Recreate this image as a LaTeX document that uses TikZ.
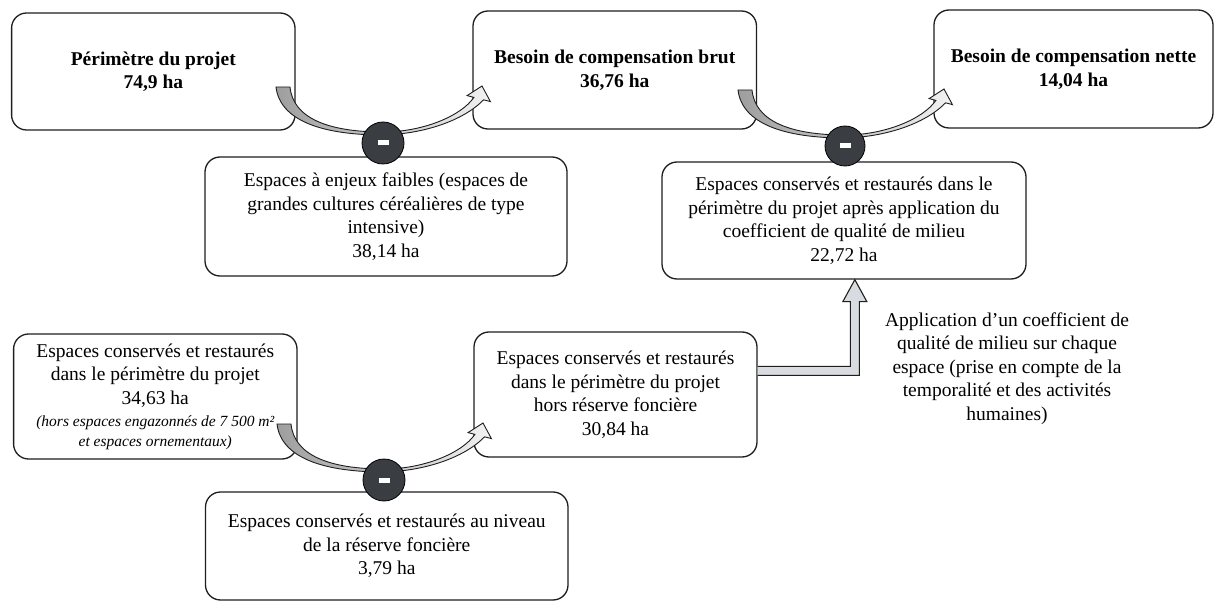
\documentclass[tikz,border=0pt]{standalone}
\usepackage{fontspec}
\setmainfont{Liberation Serif}
\usetikzlibrary{calc}
\newcommand\boxfont{\fontsize{19.5}{23.5}\selectfont}
\newcommand\smallit{\fontsize{15.5}{18}\selectfont\itshape}
\definecolor{linec}{HTML}{1E1E1E}
\definecolor{discfill}{HTML}{3A3D41}
\definecolor{elbowfill}{HTML}{D8DCE0}
\begin{document}
\begin{tikzpicture}[x=1pt,y=-1pt,
  box/.style={draw=linec, line width=1.3pt, rounded corners=15pt, fill=white, align=center, inner sep=2pt, font=\boxfont},
  boldbox/.style={box, font={\boxfont\bfseries}},
  disc/.style={circle, draw=black, line width=0.8pt, fill=discfill, minimum size=42pt, inner sep=0pt},
  bandarrow/.style={draw=linec, line width=0.9pt, left color=black!38, right color=black!5},
  elbow/.style={draw=linec, line width=1.1pt, fill=elbowfill, line join=miter},
  curvearrow/.pic={
    \draw[bandarrow] (-107,-56) .. controls (-103,-22) and (-60,-8) .. (0,-8)
      .. controls (40,-9) and (80,-22) .. (100.6,-43.2)
      -- (107.4,-41.4) -- (99,-57) -- (84.1,-47.4) -- (90.9,-45.6)
      .. controls (78,-27) and (40,-11) .. (0,-11)
      .. controls (-55,-11) and (-90,-25) .. (-93,-56) -- cycle;
  }
]
\useasboundingbox (0,0) rectangle (1216,604);

% boxes
\node[boldbox, minimum width=283.4pt, minimum height=117pt] (b1) at (153.3,71.5) {Périmètre du projet\\74,9 ha};
\node[boldbox, minimum width=283.5pt, minimum height=118pt] (b2) at (614.75,70) {Besoin de compensation brut\\36,76 ha};
\node[boldbox, minimum width=279pt, minimum height=118pt] (b3) at (1073.5,69) {Besoin de compensation nette\\14,04 ha};
\node[box, minimum width=362pt, minimum height=119pt] (b4) at (386,216.5) {Espaces à enjeux faibles (espaces de\\grandes cultures céréalières de type\\intensive)\\38,14 ha};
\node[box, minimum width=364pt, minimum height=117pt] (b5) at (844,220.5) {Espaces conservés et restaurés dans le\\périmètre du projet après application du\\coefficient de qualité de milieu\\22,72 ha};
\node[box, minimum width=283.4pt, minimum height=125pt] (b6) at (155.3,396.5) {Espaces conservés et restaurés\\dans le périmètre du projet\\34,63 ha\\[-1pt]{\smallit (hors espaces engazonnés de 7 500 m²}\\[-4pt]{\smallit et espaces ornementaux)}};
\node[box, minimum width=283pt, minimum height=125pt] (b7) at (615.5,394.5) {Espaces conservés et restaurés\\dans le périmètre du projet\\hors réserve foncière\\30,84 ha};
\node[box, minimum width=362.5pt, minimum height=108pt] (b8) at (386.75,546) {Espaces conservés et restaurés au niveau\\de la réserve foncière\\3,79 ha};

% side note
\node[font=\boxfont, align=center, inner sep=0pt] (note) at (1007,368.5) {Application d’un coefficient de\\qualité de milieu sur chaque\\espace (prise en compte de la\\temporalité et des activités\\humaines)};

% curved subtraction arrows
\coordinate (c1) at (383,143);
\coordinate (c2) at (845,146);
\coordinate (c3) at (384,480);
\pic at (c1) {curvearrow};
\pic at (c2) {curvearrow};
\pic at (c3) {curvearrow};
\node[disc] (m1) at (c1) {\color{white}\rule{11pt}{5pt}};
\node[disc, minimum size=40pt] (m2) at (c2) {\color{white}\rule{11pt}{5pt}};
\node[disc] (m3) at (c3) {\color{white}\rule{11pt}{5pt}};

% elbow block arrow from b7 to b5
\coordinate (e0) at ($(b7.north east)+(0,39.5)$);
\coordinate (et) at ($(b5.south west)+(193.5,0)$);
\coordinate (ec) at (et |- e0);
\draw[elbow] ($(e0)+(0,-4.5)$) -- ($(ec)+(-4.5,-4.5)$) -- ($(et)+(-4.5,22)$) -- ($(et)+(-12,22)$) -- (et) -- ($(et)+(12,22)$) -- ($(et)+(4.5,22)$) -- ($(ec)+(4.5,4.5)$) -- ($(e0)+(0,4.5)$);
\end{tikzpicture}
\end{document}
